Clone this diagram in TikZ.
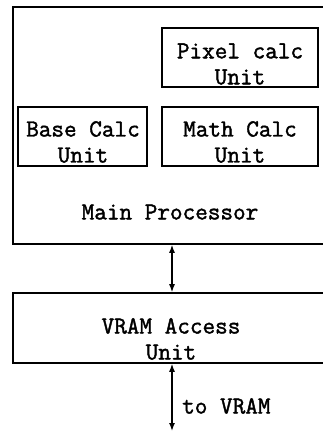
\documentclass[tikz,border=0pt]{standalone}
\usepackage{fontspec}
\newfontfamily\cmono{Latin Modern Mono}[AutoFakeBold=1.6]
\usetikzlibrary{arrows.meta}
\tikzset{
  txt/.style={font=\cmono\bfseries\fontsize{24.5}{26}\selectfont},
  unitbox/.style={draw, line width=1.6pt, align=center, inner sep=0pt, txt},
  lbl/.style={inner sep=0pt, align=center, txt},
  bus/.style={line width=1.4pt, {Latex[length=8pt,width=6pt]}-{Latex[length=8pt,width=6pt]}}
}
\begin{document}
\begin{tikzpicture}[x=1pt,y=1pt]
\clip (0,0) rectangle (323,-432);
\fill[white] (0,0) rectangle (323,-432);
% main processor
\node[unitbox, minimum width=327pt, minimum height=237pt] (mp) at (176.5,-125.5) {};
\node[unitbox, minimum width=156pt, minimum height=59pt] (pix) at (240,-57.5) {};
\node[lbl] (pixtext) at (240,-64) {Pixel calc\\Unit};
\node[unitbox, minimum width=129pt, minimum height=59pt] (base) at (82.5,-136.5) {};
\node[lbl] (basetext) at (83,-142) {Base Calc\\Unit};
\node[unitbox, minimum width=156pt, minimum height=59pt] (math) at (240,-136.5) {};
\node[lbl] (mathtext) at (240,-142) {Math Calc\\Unit};
\node[lbl] (mptext) at (170,-212) {Main Processor};
% VRAM access unit
\node[unitbox, minimum width=327pt, minimum height=70pt] (vram) at (176.5,-328) {};
\node[lbl] (vramtext) at (171,-339) {VRAM Access\\Unit};
\coordinate (ax) at (172,0);
\coordinate (vend) at (172,-431);
\draw[bus] (mp.south -| ax) -- (vram.north -| ax);
\draw[bus] (vram.south -| ax) -- (vend);
\node[lbl, anchor=west] (tovram) at (182,-406) {to VRAM};
\end{tikzpicture}
\end{document}
